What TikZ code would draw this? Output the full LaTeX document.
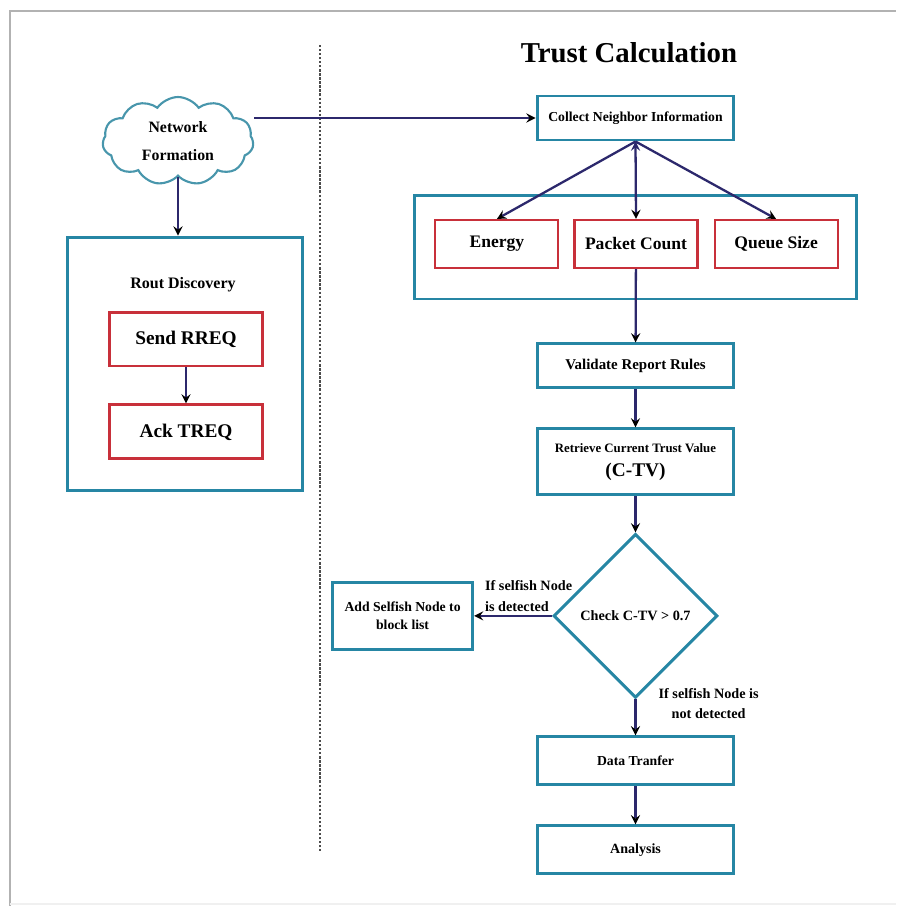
\documentclass[tikz,border=0pt]{standalone}
\usepackage{fontspec}
\setmainfont{Liberation Serif}
\usepackage{tikz}
\usetikzlibrary{positioning, arrows, shapes.geometric, shapes.symbols}
\definecolor{boxblue}{RGB}{38,134,164}
\definecolor{boxred}{RGB}{200,48,58}
\definecolor{flownavy}{RGB}{44,40,108}
\definecolor{cloudteal}{RGB}{72,150,172}
\newcommand{\fsz}[1]{\bfseries\fontsize{#1}{#1}\selectfont}
\tikzset{
    >=stealth, % small sharp arrow heads
    flow/.style={->, draw=flownavy, line width=1.3pt}, % every connector
    bluebox/.style={draw=boxblue, line width=1.7pt, fill=white, align=center, inner sep=2pt}, % teal boxes
    redbox/.style={draw=boxred, line width=1.2pt, fill=white, align=center}, % red boxes
    param/.style={redbox, minimum width=2.46cm, minimum height=0.96cm, font=\fsz{10}}, % the three measured values
    stage/.style={bluebox, minimum width=3.94cm, minimum height=0.9cm}, % boxes of the main column
    netcloud/.style={cloud, cloud puffs=11, cloud puff arc=110, aspect=1.7, draw=cloudteal, line width=1.2pt, fill=white, minimum width=3.02cm, minimum height=1.76cm, inner sep=0pt, align=center}, % network cloud
    lbl/.style={font=\bfseries\fontsize{8.1}{11.5}\selectfont, inner sep=2pt}, % texts on the connectors
}

\begin{document}
\begin{tikzpicture}[x=0.02cm, y=-0.02cm]
\useasboundingbox (0,0) rectangle (896,906);
\fill[white] (0,0) rectangle (896,906);
\draw[gray!60, line width=1.6pt] (10,906) -- (10,11) -- (896,11);
\draw[gray!12, line width=1pt] (10,904) -- (896,904);
\coordinate (divtop) at (320,45);
\coordinate (divbot) at (320,852);
\draw[densely dotted, line width=1.3pt, gray!60!black] (divtop) -- (divbot);

% left side
\node[font=\bfseries\fontsize{16.4}{20}\selectfont] (head) at (629,53) {Trust Calculation};
\node[netcloud, font=\bfseries\fontsize{9}{16}\selectfont] (cloud) at (178,141) {Network\\Formation};
\node[bluebox, minimum width=4.72cm, minimum height=5.08cm] (rout) at (185,364) {};
\node[font=\fsz{9.1}] (routlbl) at (183,285) {Rout Discovery};
\node[redbox, line width=1.7pt, minimum width=3.05cm, minimum height=1.08cm, font=\fsz{11}] (send) at (186,339) {Send RREQ};
\node[redbox, line width=1.7pt, minimum width=3.05cm, minimum height=1.08cm, font=\fsz{11}, below=0.72cm of send] (ack) {Ack TREQ};

% right side
\node[bluebox, minimum width=3.94cm, minimum height=0.88cm, font=\fsz{7.8}] (collect) at (635.5,118) {Collect Neighbor Information};
\node[bluebox, minimum width=8.86cm, minimum height=2.08cm] (group) at (635.5,247) {};
\node[param] (packet) at (636,244) {Packet Count};
\node[param, left=0.28cm of packet] (energy) {Energy};
\node[param, right=0.3cm of packet] (queue) {Queue Size};
\node[stage, font=\fsz{8.5}, minimum height=0.88cm, below=0.84cm of group] (validate) {Validate Report Rules};
\node[stage, minimum height=1.32cm, font=\bfseries\fontsize{7.3}{14}\selectfont, below=0.76cm of validate] (retrieve) {Retrieve Current Trust Value\\{\fontsize{11}{14}\selectfont (C-TV)}};
\node[diamond, aspect=1, minimum size=3.28cm, inner sep=0pt, draw=boxblue, line width=1.7pt, font=\fsz{8.1}, below=0.72cm of retrieve] (check) {Check C-TV > 0.7};
\node[bluebox, minimum width=2.8cm, minimum height=1.34cm, font=\bfseries\fontsize{7.8}{10}\selectfont, left=1.56cm of check] (selfish) {Add Selfish Node to\\block list};
\node[stage, font=\fsz{7.8}, minimum height=0.96cm, below=0.72cm of check] (data) {Data Tranfer};
\node[stage, font=\fsz{8}, minimum height=0.96cm, below=0.76cm of data] (analysis) {Analysis};

\draw[flow]
(cloud.south) edge (cloud.south |- rout.north)
(send) edge (ack)
(cloud.east |- collect.west) edge (collect)
(collect.south) edge (energy.north)
(collect.south) edge (packet.north)
(collect.south) edge (queue.north)
(packet) edge (validate)
(validate) edge (retrieve)
(retrieve) edge (check)
(check) edge node[lbl, pos=0.3, above, align=left] {If selfish Node\\is detected} (selfish)
(check) edge node[lbl, pos=0.12, right, xshift=0.37cm, align=center] {If selfish Node is\\not detected} (data)
(data) edge (analysis);
\end{tikzpicture}
\end{document}
